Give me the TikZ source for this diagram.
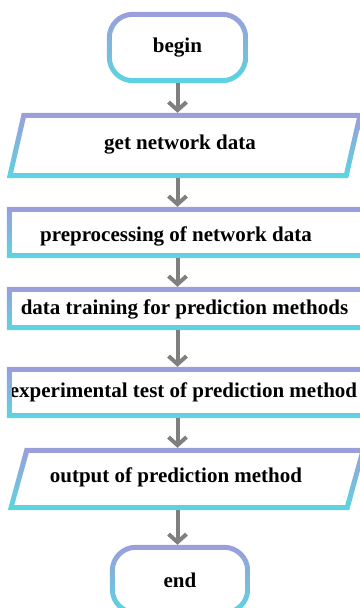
\documentclass[tikz,border=0pt]{standalone}
\usepackage{fontspec}
\setmainfont{Liberation Serif}
\usetikzlibrary{positioning,calc,arrows.meta}
\definecolor{ringtop}{HTML}{9C9DDB}
\definecolor{ringbot}{HTML}{5BD5E1}
\definecolor{flowgray}{HTML}{7F7F7F}

\begin{document}
\begin{tikzpicture}[x=1pt, y=1pt]
	\useasboundingbox (0,0) rectangle (359,608);
	\begin{scope}
		\tikzstyle{every node}=[align=center, inner sep=0pt, font=\fontsize{21}{24}\selectfont\bfseries]
		\tikzstyle{box}=[rectangle, minimum width=359, minimum height=51]
		\tikzstyle{ring}=[top color=ringtop, bottom color=ringbot, even odd rule]
		\tikzstyle{flow}=[flowgray, line width=4pt, -{Straight Barb[length=8pt, width=18pt]}]

		\node[box, minimum width=141, minimum height=71] (begin) at (177.5, 560.5) {begin};
		\node[box, minimum width=356, minimum height=65] (get)   at (185, 462.5)   {};
		\node[box]                                      (prep)  at (186.5, 375.5) {};
		\node[box, minimum height=43]                   (train) at (186.5, 299.5) {};
		\node[box]                                      (test)  at (186.5, 215.5) {};
		\node[box, minimum width=358, minimum height=62] (out)   at (187, 129)     {};
		\node[box, minimum width=140, minimum height=70] (end)   at (180, 28)      {end};

		\node (tget)   at (180, 463)   {get network data};
		\node (tprep)  at (176, 372)   {preprocessing of network data};
		\node (ttrain) at (184.5, 299) {data training for prediction methods};
		\node (ttest)  at (183.5, 216) {experimental test of prediction method};
		\node (tout)   at (176, 131)   {output of prediction method};

		% borders
		\shade[ring, rounded corners=26pt] (begin.north west) rectangle (begin.south east)
			[rounded corners=21pt] ([shift={(5,-5)}]begin.north west) rectangle ([shift={(-5,5)}]begin.south east);
		\shade[ring, rounded corners=26pt] (end.north west) rectangle (end.south east)
			[rounded corners=21pt] ([shift={(5,-5)}]end.north west) rectangle ([shift={(-5,5)}]end.south east);
		\shade[ring] (prep.north west) rectangle (prep.south east)
			([shift={(5,-5)}]prep.north west) rectangle ([shift={(-5,5)}]prep.south east);
		\shade[ring] (train.north west) rectangle (train.south east)
			([shift={(5,-5)}]train.north west) rectangle ([shift={(-5,5)}]train.south east);
		\shade[ring] (test.north west) rectangle (test.south east)
			([shift={(5,-5)}]test.north west) rectangle ([shift={(-5,5)}]test.south east);
		\shade[ring] ($(get.north west)+(15,0)$) -- (get.north east) -- ($(get.south east)+(-15,0)$) -- (get.south west) -- cycle
			($(get.north west)+(19,-5)$) -- ($(get.north east)+(-6.3,-5)$) -- ($(get.south east)+(-19,5)$) -- ($(get.south west)+(6.3,5)$) -- cycle;
		\shade[ring] ($(out.north west)+(17,0)$) -- (out.north east) -- ($(out.south east)+(-17,0)$) -- (out.south west) -- cycle
			($(out.north west)+(21,-5)$) -- ($(out.north east)+(-6.4,-5)$) -- ($(out.south east)+(-21,5)$) -- ($(out.south west)+(6.4,5)$) -- cycle;

		\draw [flow] (begin) to (begin |- get.north);
		\draw [flow] (get.south -| begin) to (begin |- prep.north);
		\draw [flow] (prep.south -| begin) to (begin |- train.north);
		\draw [flow] (train.south -| begin) to (begin |- test.north);
		\draw [flow] (test.south -| begin) to (begin |- out.north);
		\draw [flow] (out.south -| begin) to (begin |- end.north);
	\end{scope}
\end{tikzpicture}
\end{document}
